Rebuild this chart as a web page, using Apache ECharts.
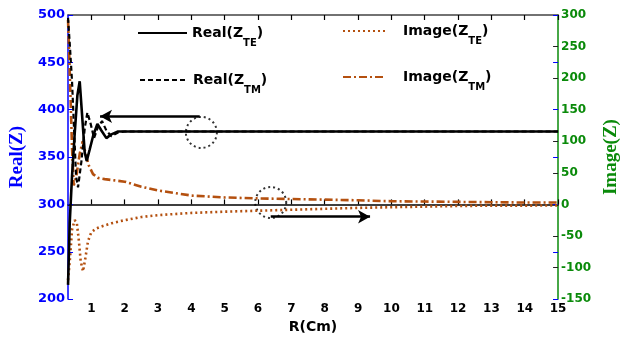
<!DOCTYPE html>
<html><head><meta charset="utf-8">
<script src="https://cdn.jsdelivr.net/npm/echarts@6/dist/echarts.min.js"></script>
<style>html,body{margin:0;padding:0;background:#fff}#c{width:629px;height:339px}</style>
</head><body><div id="c"></div>
<script>
// ---- data ----
const xTicks = [1,2,3,4,5,6,7,8,9,10,11,12,13,14,15];

const xReTE = [0.3,0.35,0.42,0.5,0.58,0.65,0.72,0.8,0.86,0.95,1.05,1.18,1.3,1.45,1.6,1.8,2,3,5,8,12,15];
const yReTE = [215,280,330,375,415,430,395,355,346,358,372,385,378,370,374,377,377,377,377,377,377,377];

const xReTM = [0.3,0.36,0.42,0.48,0.54,0.6,0.7,0.8,0.88,0.98,1.08,1.2,1.32,1.45,1.6,1.8,2,3,5,8,12,15];
const yReTM = [497,465,430,380,330,318,345,380,397,385,370,382,388,378,372,376,377,377,377,377,377,377];

const xImTE = [0.3,0.36,0.42,0.5,0.56,0.62,0.68,0.75,0.82,0.9,1.0,1.15,1.3,1.6,2,2.5,3,4,5,6,7,8,9,10,11,12,13,14,15];
const yImTE = [-120,-85,-40,-25,-28,-55,-90,-106,-85,-58,-44,-38,-35,-30,-25,-20,-17,-13.5,-11.5,-10,-8.5,-7,-5.5,-4.5,-3.5,-2.5,-2,-2,-1.5];

const xImTM = [0.3,0.34,0.38,0.42,0.47,0.55,0.65,0.74,0.82,0.92,1.05,1.2,1.4,1.7,2,2.5,3,4,5,6,7,8,9,10,11,12,13,14,15];
const yImTM = [292,230,160,90,30,45,80,100,82,62,48,42,40,38,36,28,22,14,11,9.5,8.5,7.5,6.5,5,4.5,4,3.5,3,3];

// annotation circles and arrows (data coordinates)
const circleLeft = [4.3, 376];
const circleRight = [6.38, 3];
const arrowLeft = [[4.25, 393], [1.26, 393]];
const arrowRight = [[6.38, -19.5], [9.36, -19.5]];

const names = ['Real(Z_TE)', 'Real(Z_TM)', 'Image(Z_TE)', 'Image(Z_TM)'];

// ---- chart ----
const zip = (xs, ys) => xs.map((x, i) => [x, ys[i]]);
const brown = '#b4500f';
const blue = '#0000ff';
const green = '#0a8a0a';
const FONT = 'DejaVu Sans';

function legendFmt() {
  return function (name) {
    const m = name.match(/^(.*)\(Z_(\w+)\)$/);
    return '{p|}{a|' + m[1] + '(Z}{s|' + m[2] + '}{a|)}';
  };
}
function legendRich(pad) {
  return {
    p: { width: pad, lineHeight: 30 },
    a: { fontFamily: FONT, fontWeight: 'bold', fontSize: 14, color: '#000', lineHeight: 30, verticalAlign: 'middle' },
    s: { fontFamily: FONT, fontWeight: 'bold', fontSize: 10, color: '#000', lineHeight: 30, verticalAlign: 'bottom' }
  };
}
function mkLegend(name, left, top, w, pad) {
  return {
    data: [name], left: left, top: top, padding: 0, itemWidth: w, itemHeight: 14,
    itemStyle: { opacity: 0 },
    formatter: legendFmt(), textStyle: { rich: legendRich(pad) }, selectedMode: false
  };
}

const chart = echarts.init(document.getElementById('c'));
chart.setOption({
  animation: false,
  backgroundColor: '#fff',
  grid: { left: 65, right: 61, top: 15, bottom: 36 },
  legend: [
    mkLegend(names[0], 137, 26, 49, 0),
    mkLegend(names[2], 342, 24, 43, 12),
    mkLegend(names[1], 139, 73, 48, 0),
    mkLegend(names[3], 342, 70, 43, 12)
  ],
  xAxis: [{
    type: 'value', min: 0.3, max: 15, position: 'bottom',
    axisLine: { lineStyle: { color: '#000', width: 1.5 } },
    axisTick: { inside: true, length: 5, customValues: xTicks, lineStyle: { color: '#000', width: 1.2 } },
    axisLabel: { customValues: xTicks, color: '#000', fontFamily: FONT, fontWeight: 'bold', fontSize: 12, margin: 4 },
    splitLine: { show: false },
    name: 'R(Cm)', nameLocation: 'middle', nameGap: 17,
    nameTextStyle: { color: '#000', fontFamily: FONT, fontWeight: 'bold', fontSize: 14 }
  }, {
    type: 'value', min: 0.3, max: 15, position: 'top',
    axisLine: { lineStyle: { color: '#444', width: 1.5 } },
    axisTick: { inside: true, length: 5, customValues: xTicks, lineStyle: { color: '#000', width: 1.2 } },
    axisLabel: { show: false }, splitLine: { show: false }
  }],
  yAxis: [{
    type: 'value', min: 200, max: 500, interval: 50, position: 'left',
    axisLine: { show: true, lineStyle: { color: blue, width: 1.5 } },
    axisTick: { show: true, inside: true, length: 5, lineStyle: { color: blue } },
    axisLabel: { color: blue, fontFamily: FONT, fontWeight: 'bold', fontSize: 13, margin: 3 },
    splitLine: { show: false },
    name: 'Real(Z)', nameLocation: 'middle', nameRotate: 90, nameGap: 33,
    nameTextStyle: { color: blue, fontFamily: 'Liberation Serif', fontWeight: 'bold', fontSize: 19 }
  }, {
    type: 'value', min: -150, max: 300, interval: 50, position: 'right',
    axisLine: { show: true, lineStyle: { color: green, width: 1.5 } },
    axisTick: { show: true, inside: true, length: 5, lineStyle: { color: '#222' } },
    axisLabel: { color: green, fontFamily: FONT, fontWeight: 'bold', fontSize: 12, margin: 3 },
    splitLine: { show: false },
    name: 'Image(Z)', nameLocation: 'middle', nameRotate: 90, nameGap: 34,
    nameTextStyle: { color: green, fontFamily: 'Liberation Serif', fontWeight: 'bold', fontSize: 19 }
  }, {
    type: 'value', min: 200, max: 500, interval: 50, position: 'right',
    axisLine: { show: false },
    axisTick: { show: true, inside: true, length: 5, lineStyle: { color: blue } },
    axisLabel: { show: false }, splitLine: { show: false }
  }],
  series: [{
    name: names[2], type: 'line', yAxisIndex: 1, data: zip(xImTE, yImTE), symbol: 'none',
    lineStyle: { color: brown, width: 2.6, type: [2, 3] }, itemStyle: { color: brown }
  }, {
    name: names[3], type: 'line', yAxisIndex: 1, data: zip(xImTM, yImTM), symbol: 'none',
    lineStyle: { color: brown, width: 2.6, type: [8, 3, 2, 3] }, itemStyle: { color: brown }
  }, {
    name: names[1], type: 'line', yAxisIndex: 0, data: zip(xReTM, yReTM), symbol: 'none',
    lineStyle: { color: '#000', width: 2.2, type: [5, 3] }, itemStyle: { color: '#000' }
  }, {
    name: names[0], type: 'line', yAxisIndex: 0, data: zip(xReTE, yReTE), symbol: 'none',
    lineStyle: { color: '#000', width: 2.6, type: 'solid' }, itemStyle: { color: '#000' }
  }, {
    name: 'annL', type: 'scatter', yAxisIndex: 0, data: [circleLeft], symbolSize: 31, silent: true,
    itemStyle: { color: 'rgba(0,0,0,0)', borderColor: '#000', borderWidth: 2, borderType: [2, 3] },
    markLine: {
      silent: true, symbol: ['none', 'arrow'], symbolSize: [10, 12], label: { show: false },
      lineStyle: { color: '#000', width: 2.5, type: 'solid' },
      data: [[{ coord: arrowLeft[0] }, { coord: arrowLeft[1] }]]
    }
  }, {
    name: 'annR', type: 'scatter', yAxisIndex: 1, data: [circleRight], symbolSize: 31, silent: true,
    itemStyle: { color: 'rgba(0,0,0,0)', borderColor: '#000', borderWidth: 2, borderType: [2, 3] },
    markLine: {
      silent: true, symbol: ['none', 'arrow'], symbolSize: [10, 12], label: { show: false },
      lineStyle: { color: '#000', width: 2.5, type: 'solid' },
      data: [[{ coord: arrowRight[0] }, { coord: arrowRight[1] }]]
    }
  }]
});
</script>
</body></html>
